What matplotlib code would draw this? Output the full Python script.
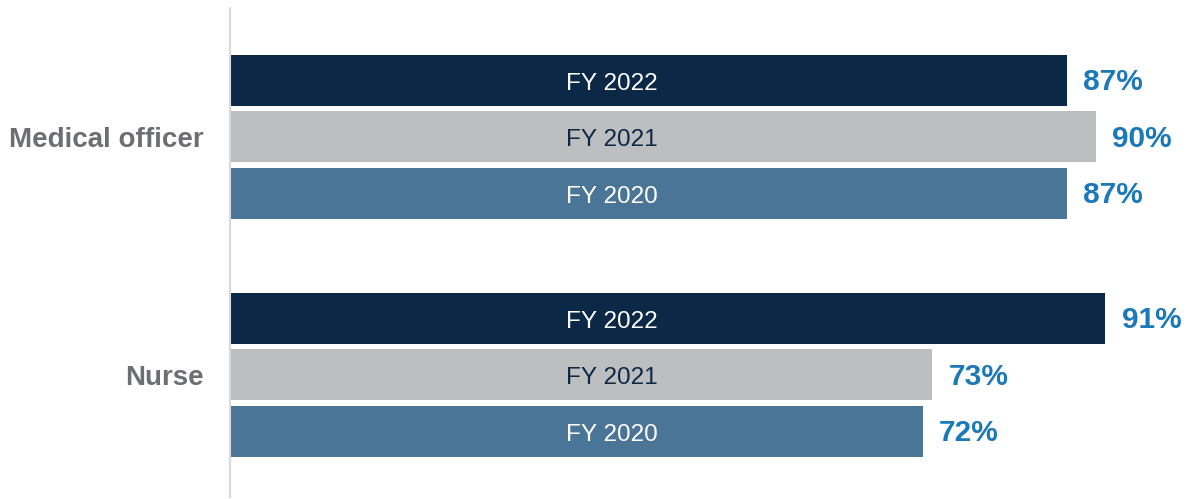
#!/usr/bin/env python3
import matplotlib
matplotlib.use("Agg")
import matplotlib.pyplot as plt

# data
categories = ["Medical officer", "Nurse"]
years = ["FY 2022", "FY 2021", "FY 2020"]
values = {
    "Medical officer": [87, 90, 87],
    "Nurse": [91, 73, 72],
}

bar_colors = ["#0B2847", "#BDBEC0", "#4A7596"]
text_colors = ["white", "#0B2847", "white"]
value_color = "#1B79B9"
cat_color = "#6D6E71"

plt.rcParams["font.family"] = ["Liberation Sans", "DejaVu Sans"]

fig = plt.figure(figsize=(11.88, 4.99), dpi=100)
ax = fig.add_axes([230 / 1188, 2 / 499, 958 / 1188, 489 / 499])

group_gap = 4.21
ticks = []
for g, cat in enumerate(categories):
    base = g * group_gap
    ticks.append(base + 1)
    for i, (yr, v) in enumerate(zip(years, values[cat])):
        y = base + i
        ax.barh(y, v, height=0.9, color=bar_colors[i], left=0)
        ax.text(39.7, y + 0.06, yr, ha="center", va="center",
                fontsize=17.5, color=text_colors[i])
        ax.text(v + 1.7, y + 0.03, f"{v}%", ha="left", va="center",
                fontsize=21.5, fontweight="bold", color=value_color)

ax.set_xlim(0, 99.6)
ax.set_ylim(2 + group_gap + 1.16, -1.28)
ax.set_yticks(ticks)
ax.set_yticklabels(categories, fontsize=20, fontweight="bold", color=cat_color)
ax.tick_params(axis="y", length=0, pad=19)
ax.set_xticks([])
for side in ["top", "right", "bottom"]:
    ax.spines[side].set_visible(False)
ax.spines["left"].set_color("#D9D9D9")
ax.spines["left"].set_linewidth(1.5)

fig.savefig("out.png", dpi=100)
